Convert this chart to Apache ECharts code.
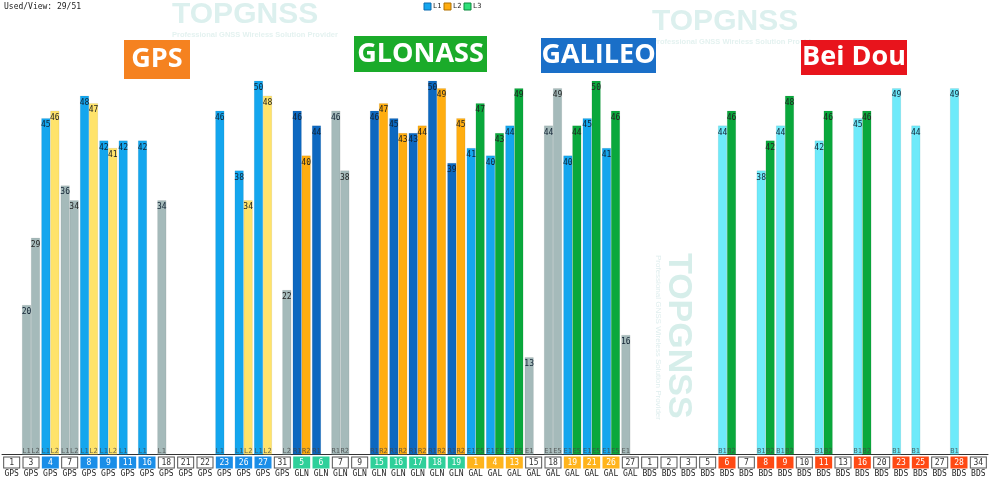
<!DOCTYPE html>
<html>
<head>
<meta charset="utf-8">
<script src="https://cdn.jsdelivr.net/npm/echarts@6/dist/echarts.min.js"></script>
<style>html,body{margin:0;padding:0;background:#fff}#chart{width:1000px;height:478px}</style>
</head>
<body>
<div id="chart"></div>
<script>
// satellites in view, one slot each
var satIds = ['1','3','4','7','8','9','11','16','18','21','22','23','26','27','31',
  '5','6','7','9','15','16','17','18','19',
  '1','4','13','15','18','19','21','26','27',
  '1','2','3','5','6','7','8','9','10','11','13','16','20','23','25','27','28','34'];
var systems = [].concat(
  Array(15).fill('GPS'), Array(9).fill('GLN'), Array(9).fill('GAL'), Array(18).fill('BDS'));
var used = [0,0,1,0,1,1,1,1,0,0,0,1,1,1,0,
  1,1,0,0,1,1,1,1,1,
  1,1,1,0,0,1,1,1,0,
  0,0,0,0,1,0,1,1,0,1,0,1,0,1,1,0,1,0];
var snr1 = [null,20,45,36,48,42,42,42,34,null,null,46,38,50,null,
  46,44,46,null,46,45,43,50,39,
  41,40,44,13,44,40,45,41,16,
  null,null,null,null,44,null,38,44,null,42,null,45,null,49,44,null,49,null];
var snr2 = [null,29,46,34,47,41,null,null,null,null,null,null,34,48,22,
  40,null,38,null,47,43,44,49,45,
  47,43,49,null,49,44,50,46,null,
  null,null,null,null,46,null,42,48,null,46,null,46,null,null,null,null,null,null];

var bandColors = {
  GPS: ['#14a6ee', '#ffe36a'],
  GLN: ['#0d68c0', '#ffad10'],
  GAL: ['#14a6ee', '#0aa83c'],
  BDS: ['#6eeafa', '#0aa83c']
};
var bandCodes = {GPS: ['L1', 'L2'], GLN: ['R1', 'R2'], GAL: ['E1', 'E5'], BDS: ['B1', 'B2']};
var boxColors = {GPS: '#1a8ee8', GLN: '#2fd09a', GAL: '#ffb41c', BDS: '#ff4a14'};
var grey = '#a5baba';
var mono = 'DejaVu Sans Mono';

function barData(vals, band) {
  return vals.map(function (v, i) {
    if (v == null) return null;
    var c = used[i] ? bandColors[systems[i]][band] : grey;
    return {value: v, itemStyle: {color: c, borderColor: 'rgba(0,0,0,0.12)', borderWidth: 0.5}};
  });
}
function codeData(vals, band) {
  return vals.map(function (v, i) {
    if (v == null) return null;
    return {value: 0, label: {formatter: bandCodes[systems[i]][band]}};
  });
}

var rich = {
  n: {fontFamily: mono, fontSize: 8, color: '#333', width: 15, height: 10, align: 'center',
      backgroundColor: '#fff', borderColor: '#555', borderWidth: 1},
  s: {fontFamily: mono, fontSize: 8, color: '#222', height: 9, align: 'center', padding: [2, 0, 0, 0]}
};
Object.keys(boxColors).forEach(function (k) {
  rich['u' + k] = {fontFamily: mono, fontSize: 8, color: '#fff', width: 15, height: 10, align: 'center',
      backgroundColor: boxColors[k], borderColor: boxColors[k], borderWidth: 1};
});

function heading(text, x, y, w, h, color) {
  return {type: 'group', left: x, top: y, children: [
    {type: 'rect', shape: {x: 0, y: 0, width: w, height: h}, style: {fill: color}},
    {type: 'text', x: w / 2, y: h / 2, style: {text: text, fill: '#fff', font: 'bold 27px "Open Sans"',
      textAlign: 'center', textVerticalAlign: 'middle'}}
  ]};
}
function mark(text, x, y) {
  return [
    {type: 'text', left: x, top: y, style: {text: text, fill: '#dcf0ee', font: 'bold 30px "Liberation Sans"'}},
    {type: 'text', left: x, top: y + 31, style: {text: 'Professional GNSS Wireless Solution Provider',
      fill: '#e4f2f0', font: 'bold 7.5px "Liberation Sans"'}}
  ];
}

var chart = echarts.init(document.getElementById('chart'));
chart.setOption({
  animation: false,
  grid: {left: 2, right: 12, top: 6, bottom: 22},
  xAxis: {
    type: 'category', data: satIds,
    axisLine: {lineStyle: {color: '#333', width: 1}},
    axisTick: {show: false},
    axisLabel: {interval: 0, margin: 3,
      formatter: function (v, i) {
        var s = systems[i];
        return '{' + (used[i] ? 'u' + s : 'n') + '|' + v + '}\n{s|' + s + '}';
      }, rich: rich}
  },
  yAxis: {type: 'value', min: 0, max: 60, show: false, splitLine: {show: false}},
  series: [
    {name: 'L1', type: 'bar', data: barData(snr1, 0), barWidth: 9, barGap: '0%',
     label: {show: true, position: 'insideTop', distance: 3, fontFamily: mono, fontSize: 8, color: '#123'}},
    {name: 'L2', type: 'bar', data: barData(snr2, 1), barWidth: 9, barGap: '0%',
     label: {show: true, position: 'insideTop', distance: 3, fontFamily: mono, fontSize: 8, color: '#222'}},
    {type: 'scatter', data: codeData(snr1, 0), symbolSize: 0, silent: true, z: 5,
     label: {show: true, position: 'top', distance: 0, offset: [-4.5, 0], fontFamily: mono, fontSize: 7, color: '#444'}},
    {type: 'scatter', data: codeData(snr2, 1), symbolSize: 0, silent: true, z: 5,
     label: {show: true, position: 'top', distance: 0, offset: [4.5, 0], fontFamily: mono, fontSize: 7, color: '#444'}}
  ],
  graphic: [].concat(
    mark('TOPGNSS', 172, 0),
    mark('TOPGNSS', 652, 7),
    [{type: 'text', x: 678, y: 253, rotation: -Math.PI / 2, z: -1,
      style: {text: 'TOPGNSS', fill: '#d6eeea', font: 'bold 34px "Liberation Sans"', textVerticalAlign: 'middle'}},
     {type: 'text', x: 658, y: 255, rotation: -Math.PI / 2, z: -1,
      style: {text: 'Professional GNSS Wireless Solution Provider', fill: '#dfeeee', font: '8px "Liberation Sans"',
        textVerticalAlign: 'middle'}},
     {type: 'text', left: 4, top: 3, style: {text: 'Used/View: 29/51', fill: '#222', font: '8px "DejaVu Sans Mono"'}},
     {type: 'rect', shape: {x: 424, y: 3, width: 7, height: 7}, style: {fill: '#14a6ee', stroke: '#0a6ab0'}},
     {type: 'text', x: 433, y: 3, style: {text: 'L1', fill: '#222', font: '7px "DejaVu Sans Mono"'}},
     {type: 'rect', shape: {x: 444, y: 3, width: 7, height: 7}, style: {fill: '#ffad10', stroke: '#b07000'}},
     {type: 'text', x: 453, y: 3, style: {text: 'L2', fill: '#222', font: '7px "DejaVu Sans Mono"'}},
     {type: 'rect', shape: {x: 464, y: 3, width: 7, height: 7}, style: {fill: '#2fe07a', stroke: '#0a8a3c'}},
     {type: 'text', x: 473, y: 3, style: {text: 'L3', fill: '#222', font: '7px "DejaVu Sans Mono"'}},
     heading('GPS', 124, 40, 66, 39, '#f58220'),
     heading('GLONASS', 354, 36, 133, 36, '#1aab2a'),
     heading('GALILEO', 541, 38, 115, 35, '#1a6fc8'),
     heading('Bei Dou', 801, 40, 106, 35, '#e8141c')]
  )
});
</script>
</body>
</html>
